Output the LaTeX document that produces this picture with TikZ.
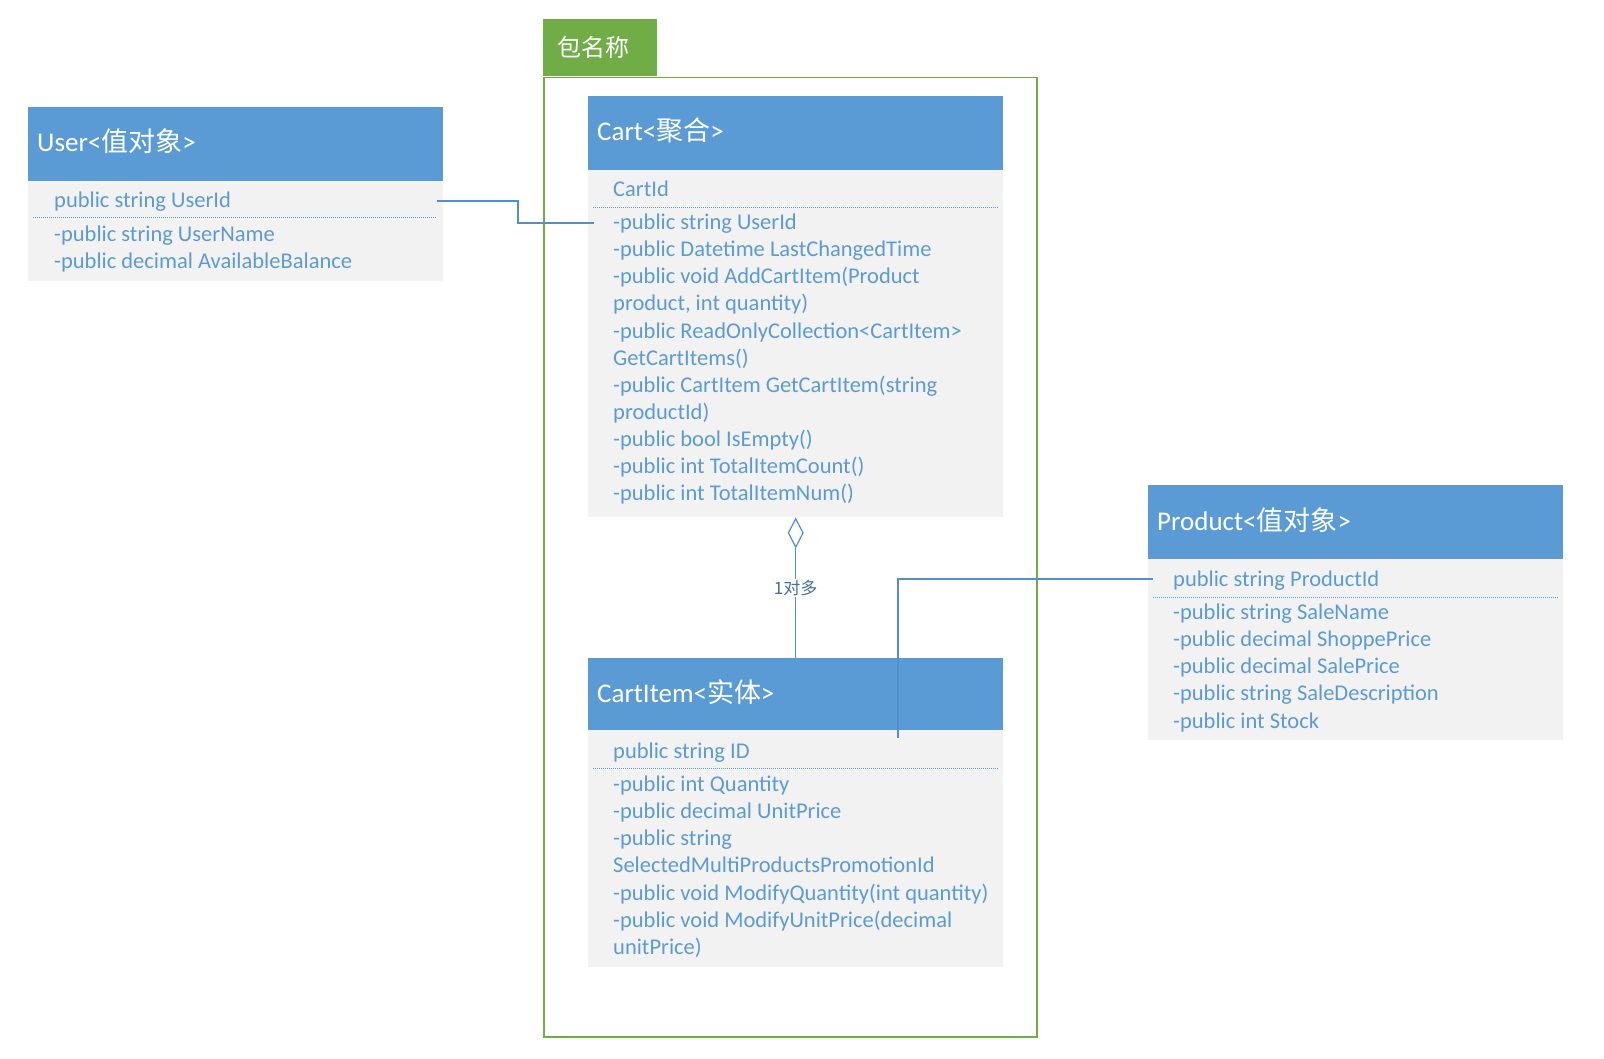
\documentclass[tikz,border=0pt]{standalone}
\usepackage{fontspec}
\setmainfont{Carlito}
\newfontfamily\cjk{Noto Sans CJK SC}
\usetikzlibrary{arrows.meta}

\definecolor{headblue}{HTML}{5B9BD5}
\definecolor{linkblue}{HTML}{5090CB}
\definecolor{bodygray}{HTML}{F2F2F2}
\definecolor{pkggreen}{HTML}{70AD47}
\definecolor{notecolor}{HTML}{41719C}

\begin{document}
\begin{tikzpicture}[x=1pt,y=-1pt,
  classhead/.style={fill=headblue,anchor=north west,inner sep=0,minimum width=415pt,minimum height=74pt},
  classbody/.style={fill=bodygray,anchor=north west,inner sep=0,minimum width=415pt},
  classtitle/.style={anchor=base west,inner sep=0,text=white,font=\fontsize{27}{31}\selectfont},
  members/.style={anchor=north west,inner sep=0,align=left,text=headblue,font=\fontsize{22.5}{27.1}\selectfont},
  dotsep/.style={headblue,line width=0.8pt,dash pattern=on 1pt off 1pt},
  assoc/.style={linkblue,line width=1.2pt}]
  \useasboundingbox (0,0) rectangle (1604,1059);

  % package
  \node[fill=pkggreen,anchor=north west,inner ysep=0,inner xsep=14pt,text width=86pt,minimum height=57pt,align=left,text=white,font=\cjk\fontsize{24}{28}\selectfont] (pkgtab) at (543,19) {包名称};
  \node[draw=pkggreen,line width=1.5pt,anchor=north west,minimum width=493pt,minimum height=959pt] (pkg) at (543,77) {};

  % user
  \node[classhead] (userhead) at (28,107) {};
  \node[classtitle] (usertitle) at (37,152) {User<{\cjk 值对象}>};
  \node[classbody,minimum height=100pt] (userbody) at (28,181) {};
  \node[members] (userkey) at (54,188) {\strut public string UserId};
  \draw[dotsep] (33,217) -- (437,217);
  \node[members] (usermembers) at (54,222) {\strut -public string UserName\\-public decimal AvailableBalance};

  % cart
  \node[classhead] (carthead) at (588,96) {};
  \node[classtitle] (carttitle) at (597,141) {Cart<{\cjk 聚合}>};
  \node[classbody,minimum height=347pt] (cartbody) at (588,170) {};
  \node[members] (cartkey) at (613,177) {\strut CartId};
  \draw[dotsep] (593,207) -- (998,207);
  \node[members] (cartmembers) at (613,210.5) {\strut -public string UserId\\
    -public Datetime LastChangedTime\\
    -public void AddCartItem(Product\\
    product, int quantity)\\
    -public ReadOnlyCollection<CartItem>\\
    GetCartItems()\\
    -public CartItem GetCartItem(string\\
    productId)\\
    -public bool IsEmpty()\\
    -public int TotalItemCount()\\
    -public int TotalItemNum()};

  % cart item
  \node[classhead,minimum height=72pt] (itemhead) at (588,658) {};
  \node[classtitle] (itemtitle) at (597,702) {CartItem<{\cjk 实体}>};
  \node[classbody,minimum height=237pt] (itembody) at (588,730) {};
  \node[members] (itemkey) at (613,739.5) {\strut public string ID};
  \draw[dotsep] (593,768) -- (998,768);
  \node[members] (itemmembers) at (613,772.5) {\strut -public int Quantity\\
    -public decimal UnitPrice\\
    -public string\\
    SelectedMultiProductsPromotionId\\
    -public void ModifyQuantity(int quantity)\\
    -public void ModifyUnitPrice(decimal\\
    unitPrice)};

  % product
  \node[classhead] (prodhead) at (1148,485) {};
  \node[classtitle] (prodtitle) at (1157,530) {Product<{\cjk 值对象}>};
  \node[classbody,minimum height=181pt] (prodbody) at (1148,559) {};
  \node[members] (prodkey) at (1173,567.5) {\strut public string ProductId};
  \draw[dotsep] (1153,597) -- (1558,597);
  \node[members] (prodmembers) at (1173,600.5) {\strut -public string SaleName\\
    -public decimal ShoppePrice\\
    -public decimal SalePrice\\
    -public string SaleDescription\\
    -public int Stock};

  % connectors
  \coordinate (userid) at (437,201);
  \coordinate (cartuserid) at (594,223);
  \draw[assoc] (userid) -- ++(81,0) |- (cartuserid);
  \coordinate (productid) at (1153,579);
  \coordinate (itemend) at (898,738);
  \draw[assoc] (productid) -| (itemend);
  \draw[assoc,{Diamond[open,length=31pt,width=16pt]}-] (cartbody.south) -- (itemhead.north)
    node[midway,fill=white,inner sep=1pt,text=notecolor,font=\cjk\fontsize{17}{20}\selectfont] (aggnote) {1对多};
\end{tikzpicture}
\end{document}
